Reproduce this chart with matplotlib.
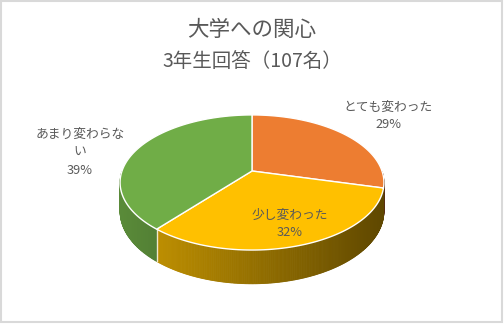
"""
3D-style pie: university interest survey, 3rd-year students (107).
Drawn by hand with polygons so the Excel-like tilt and side shading can be matched.
"""
import numpy as np
import matplotlib
matplotlib.use("Agg")
import matplotlib.pyplot as plt
from matplotlib.patches import Polygon, Rectangle

plt.rcParams["font.family"] = ["Noto Sans CJK JP", "DejaVu Sans"]

TITLE = "大学への関心"
SUBTITLE = "3年生回答（107名）"
labels = ["とても変わった", "少し変わった", "あまり変わらな\nい"]
percents = [29, 32, 39]
colors = ["#ED7D31", "#FFC000", "#70AD47"]

# layout of the tilted disc, in pixel units
CX, CY = 252, 171
A, B, K = 130, 65.6, 0.17
DEPTH = 28
TEXT_GRAY = "#595959"


def proj(theta, r=1.0, drop=False):
    t = np.radians(theta)
    u, v = r * np.sin(t), r * np.cos(t)
    s = 1.0 / (1.0 + K * v)
    x = CX + A * u * s
    y = CY - B * v * s
    if drop:
        y = y + DEPTH * s
    return x, y


def shade(x):
    # brighter at left, darker to the right
    f = 0.80 - 0.43 * (x - 120) / 264
    return float(np.clip(f, 0.3, 0.9))


def darker(hex_color, f):
    rgb = np.array(matplotlib.colors.to_rgb(hex_color))
    return tuple(rgb * f)


fig = plt.figure(figsize=(5.04, 3.24), dpi=100)
ax = fig.add_axes([0, 0, 1, 1])
ax.set_xlim(0, 504)
ax.set_ylim(324, 0)
ax.axis("off")

ax.add_patch(Rectangle((1, 1), 501, 321, fill=False, edgecolor="#D9D9D9", lw=1.5))

total = sum(percents)
bounds = np.concatenate([[0], np.cumsum(percents)]) / total * 360.0

# side walls, only the front half is visible
for i, col in enumerate(colors):
    a0, a1 = max(bounds[i], 90), min(bounds[i + 1], 270)
    if a1 <= a0:
        continue
    steps = np.linspace(a0, a1, max(int((a1 - a0) * 2), 2))
    for t0, t1 in zip(steps[:-1], steps[1:]):
        x0, y0 = proj(t0)
        x1, y1 = proj(t1)
        x2, y2 = proj(t1, drop=True)
        x3, y3 = proj(t0, drop=True)
        c = darker(col, shade((x0 + x1) / 2))
        ax.add_patch(Polygon([(x0, y0), (x1, y1), (x2, y2), (x3, y3)],
                             closed=True, facecolor=c, edgecolor=c, lw=0.6))

# separator where a slice boundary crosses the lit (left) part of the wall
for t in bounds[1:-1]:
    if 180 < t < 270:
        xa, ya = proj(t)
        xb, yb = proj(t, drop=True)
        ax.plot([xa, xb], [ya, yb], color="white", lw=1.0, alpha=0.8)

# top face
for i, col in enumerate(colors):
    arc = np.linspace(bounds[i], bounds[i + 1], 200)
    xs, ys = proj(arc)
    pts = [(CX, CY)] + list(zip(xs, ys))
    ax.add_patch(Polygon(pts, closed=True, facecolor=col, edgecolor="white",
                         lw=1.0, joinstyle="round"))

# titles
ax.text(252, 30, TITLE, ha="center", va="center", fontsize=15.5, color=TEXT_GRAY)
ax.text(252, 62, SUBTITLE, ha="center", va="center", fontsize=14, color=TEXT_GRAY)

# data labels
label_pos = [(388, 116), (290, 224), (80, 152)]
for lab, p, (lx, ly) in zip(labels, percents, label_pos):
    ax.text(lx, ly, f"{lab}\n{p}%", ha="center", va="center", fontsize=9.2,
            color=TEXT_GRAY, linespacing=1.5)

fig.savefig("out.png", dpi=100)
